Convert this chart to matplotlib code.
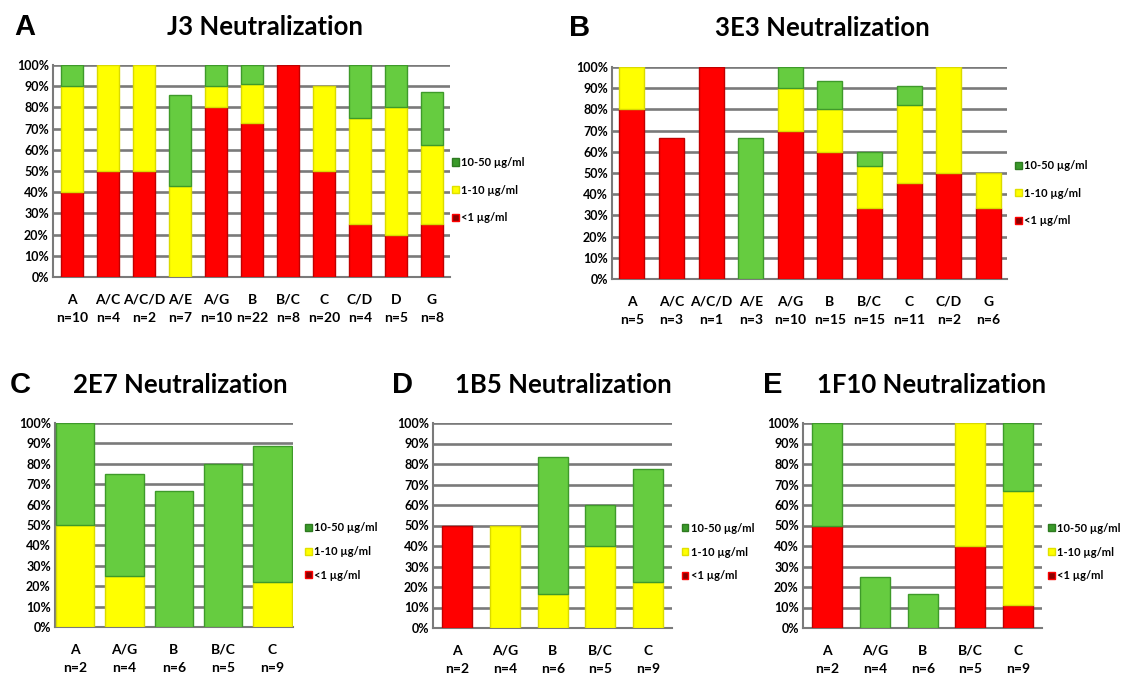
import matplotlib
matplotlib.use("Agg")
import matplotlib.pyplot as plt
from matplotlib.patches import Patch
from matplotlib.ticker import FuncFormatter

# ---------------- data ----------------
cats_A = ["A", "A/C", "A/C/D", "A/E", "A/G", "B", "B/C", "C", "C/D", "D", "G"]
n_A = [10, 4, 2, 7, 10, 22, 8, 20, 4, 5, 8]
red_A = [40, 50, 50, 0, 80, 72.7, 100, 50, 25, 20, 25]
yel_A = [50, 50, 50, 42.9, 10, 18.2, 0, 40, 50, 60, 37.5]
grn_A = [10, 0, 0, 42.9, 10, 9.1, 0, 0, 25, 20, 25]

cats_B = ["A", "A/C", "A/C/D", "A/E", "A/G", "B", "B/C", "C", "C/D", "G"]
n_B = [5, 3, 1, 3, 10, 15, 15, 11, 2, 6]
red_B = [80, 66.7, 100, 0, 70, 60, 33.3, 45.5, 50, 33.3]
yel_B = [20, 0, 0, 0, 20, 20, 20, 36.4, 50, 16.7]
grn_B = [0, 0, 0, 66.7, 10, 13.3, 6.7, 9.1, 0, 0]

cats_5 = ["A", "A/G", "B", "B/C", "C"]
n_5 = [2, 4, 6, 5, 9]

red_C = [0, 0, 0, 0, 0]
yel_C = [50, 25, 0, 0, 22.2]
grn_C = [50, 50, 66.7, 80, 66.7]

red_D = [50, 0, 0, 0, 0]
yel_D = [0, 50, 16.7, 40, 22.2]
grn_D = [0, 0, 66.7, 20, 55.6]

red_E = [50, 0, 0, 40, 11.1]
yel_E = [0, 0, 0, 60, 55.6]
grn_E = [50, 25, 16.7, 0, 33.3]

legend_labels = ["10-50 \u00b5g/ml", "1-10 \u00b5g/ml", "<1 \u00b5g/ml"]

# ---------------- style ----------------
RED, RED_E = "#FF0000", "#C00000"
YEL, YEL_E = "#FFFF00", "#DADA00"
GRN, GRN_E = "#66CC40", "#3E9A2A"
GRID = "#7A7A7A"
TFONT = ["Lato", "DejaVu Sans"]

W, H = 1123, 675
fig = plt.figure(figsize=(W / 100, H / 100), dpi=100)
fig.patch.set_facecolor("white")


def make_axes(l, r, t, b):
    return fig.add_axes([l / W, (H - b) / H, (r - l) / W, (b - t) / H])


def seg(ax, x, vals, bottom, width, fc, ec):
    lw = [1.0 if v > 0 else 0.0 for v in vals]
    ax.bar(x, vals, width, bottom=bottom, color=fc, edgecolor=ec,
           linewidth=lw, zorder=3)


def panel(ax, cats, ns, red, yel, grn, width, xlim, title, letter,
          title_x, letter_x, title_y, leg_x, leg_y, leg_space):
    x = list(range(len(cats)))
    bot2 = [r + y for r, y in zip(red, yel)]
    seg(ax, x, red, 0, width, RED, RED_E)
    seg(ax, x, yel, red, width, YEL, YEL_E)
    seg(ax, x, grn, bot2, width, GRN, GRN_E)
    ax.set_ylim(0, 100)
    ax.set_xlim(*xlim)
    ax.set_yticks(range(0, 101, 10))
    ax.yaxis.set_major_formatter(FuncFormatter(lambda v, p: f"{int(v)}%"))
    ax.yaxis.grid(True, color=GRID, linewidth=1.9, zorder=0)
    ax.set_axisbelow(True)
    for s in ["top", "right"]:
        ax.spines[s].set_visible(False)
    for s in ["left", "bottom"]:
        ax.spines[s].set_color(GRID)
        ax.spines[s].set_linewidth(1.5)
    ax.set_xticks(x)
    ax.set_xticklabels([f"{c}\nn={n}" for c, n in zip(cats, ns)],
                       fontsize=10, fontweight="bold", family=TFONT,
                       linespacing=1.65)
    ax.tick_params(axis="x", length=0, pad=12)
    ax.tick_params(axis="y", length=0, pad=3)
    for lb in ax.get_yticklabels():
        lb.set_fontsize(9)
        lb.set_fontweight("bold")
        lb.set_family(TFONT)
    handles = [Patch(facecolor="#3A9A2A", edgecolor="#2E7A20"),
               Patch(facecolor="#FFFF00", edgecolor="#E0E000"),
               Patch(facecolor="#8B0000", edgecolor="#FF0000")]
    ax.legend(handles, legend_labels, loc="center left",
              bbox_to_anchor=(leg_x, leg_y), frameon=False,
              handlelength=0.6, handleheight=0.6, handletextpad=0.25,
              labelspacing=leg_space, borderaxespad=0, borderpad=0,
              prop={"family": TFONT, "size": 8.0, "weight": "bold"})
    fig.text(title_x / W, 1 - title_y / H, title, ha="center", va="center",
             fontsize=18.5, fontweight="bold", family=TFONT)
    fig.text(letter_x / W, 1 - title_y / H, letter, ha="center", va="center",
             fontsize=21, fontweight="bold", family=["Liberation Sans", "DejaVu Sans"])


axA = make_axes(53, 450, 65, 277)
panel(axA, cats_A, n_A, red_A, yel_A, grn_A, 0.6, (-0.53, 10.5),
      "J3 Neutralization", "A", 265, 25, 27, 1.005, 0.41, 1.5)

axB = make_axes(612, 1007, 67, 279)
panel(axB, cats_B, n_B, red_B, yel_B, grn_B, 0.63, (-0.5, 9.47),
      "3E3 Neutralization", "B", 822, 580, 28, 1.02, 0.405, 1.5)

axC = make_axes(55, 293, 423, 627)
panel(axC, cats_5, n_5, red_C, yel_C, grn_C, 0.78, (-0.41, 4.42),
      "2E7 Neutralization", "C", 180, 20, 385, 1.05, 0.37, 1.15)

axD = make_axes(433, 672, 423, 628)
panel(axD, cats_5, n_5, red_D, yel_D, grn_D, 0.63, (-0.51, 4.5),
      "1B5 Neutralization", "D", 563, 403, 385, 1.04, 0.37, 1.15)

axE = make_axes(803, 1042, 423, 628)
panel(axE, cats_5, n_5, red_E, yel_E, grn_E, 0.63, (-0.51, 4.5),
      "1F10 Neutralization", "E", 932, 773, 385, 1.025, 0.37, 1.15)

fig.savefig("out.png", dpi=100, facecolor="white")
